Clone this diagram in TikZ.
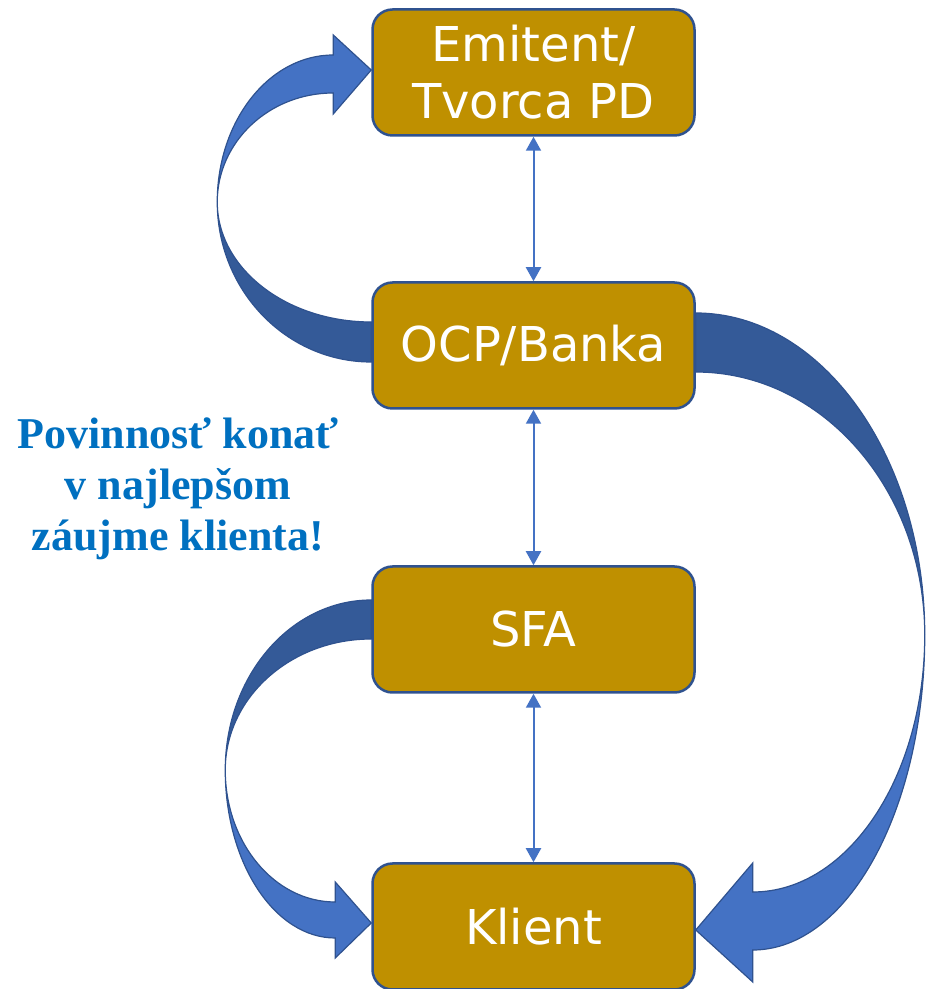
\documentclass[tikz,border=0pt]{standalone}
\usepackage{fontspec}
\usetikzlibrary{arrows.meta,calc,backgrounds}
\newfontfamily\boxFont{DejaVu Sans}
\newfontfamily\noteFont{Liberation Serif}
\definecolor{cBox}{HTML}{BF9000}
\definecolor{cEdge}{HTML}{2F528F}
\definecolor{cLight}{HTML}{4472C4}
\definecolor{cDark}{HTML}{345A98}
\definecolor{cNote}{HTML}{0070C0}
\begin{document}
\begin{tikzpicture}[x=1pt, y=1pt,
    partyBox/.style={draw=cEdge, line width=2.5pt, fill=cBox, rounded corners=20pt,
        minimum width=322pt, minimum height=126pt, inner sep=0pt, text=white,
        align=center, font=\boxFont\fontsize{48}{57}\selectfont},
    linkArrow/.style={draw=cLight, line width=2pt,
        {Triangle[width=15pt,length=14pt]}-{Triangle[width=15pt,length=14pt]}},
    bandDark/.style={fill=cDark, draw=cEdge, line width=1.2pt},
    bandLight/.style={fill=cLight, draw=cEdge, line width=1.2pt}]
    \useasboundingbox (0, 0) rectangle (927, 989);
    % the four parties
    \node[partyBox] (emit) at (533.5, 916.5) {Emitent/\\Tvorca PD};
    \node[partyBox] (ocp) at (533.5, 643.5) {OCP/Banka};
    \node[partyBox] (sfa) at (533.5, 359.5) {SFA};
    \node[partyBox] (klient) at (533.5, 62.5) {Klient};
    \node[text=cNote, align=center, inner sep=0pt,
        font=\noteFont\bfseries\fontsize{44}{51}\selectfont] (note) at (178, 500)
        {Povinnosť konať\\v najlepšom\\záujme klienta!};
    \draw[linkArrow] (emit) -- (ocp);
    \draw[linkArrow] (ocp) -- (sfa);
    \draw[linkArrow] (sfa) -- (klient);
    \begin{scope}[on background layer]
        % OCP -> Emitent
        \draw[bandDark] ($(ocp.west)+(0,-16.5)$)
            arc[start angle=270, end angle=180, x radius=154, y radius=160]
            arc[start angle=180, end angle=270, x radius=154, y radius=120] -- cycle;
        \draw[bandLight] ($(emit.west)+(-38,17.5)$)
            arc[start angle=90, end angle=180, x radius=116, y radius=147]
            arc[start angle=180, end angle=90, x radius=116, y radius=109]
            -- ($(emit.west)+(-38,-41.5)$) -- ($(emit.west)+(0,2.5)$)
            -- ($(emit.west)+(-38,37.5)$) -- cycle;
        % OCP -> Klient
        \draw[bandDark] ($(ocp.east)+(0,32.5)$)
            arc[start angle=90, end angle=0, x radius=229, y radius=322]
            arc[start angle=0, end angle=90, x radius=229, y radius=263] -- cycle;
        \draw[bandLight] ($(klient.east)+(57,-23.5)$)
            arc[start angle=-90, end angle=0, x radius=172, y radius=315]
            arc[start angle=0, end angle=-90, x radius=172, y radius=257]
            -- ($(klient.east)+(57,63.5)$) -- ($(klient.east)+(0,-3.5)$)
            -- ($(klient.east)+(57,-55.5)$) -- cycle;
        % SFA -> Klient
        \draw[bandDark] ($(sfa.west)+(0,29.5)$)
            arc[start angle=90, end angle=180, x radius=146, y radius=170]
            arc[start angle=180, end angle=90, x radius=146, y radius=131] -- cycle;
        \draw[bandLight] ($(klient.west)+(-36,-11.5)$)
            arc[start angle=270, end angle=180, x radius=110, y radius=168]
            arc[start angle=180, end angle=270, x radius=110, y radius=132]
            -- ($(klient.west)+(-36,44.5)$) -- ($(klient.west)+(0,3.5)$)
            -- ($(klient.west)+(-36,-31.5)$) -- cycle;
    \end{scope}
\end{tikzpicture}
\end{document}
